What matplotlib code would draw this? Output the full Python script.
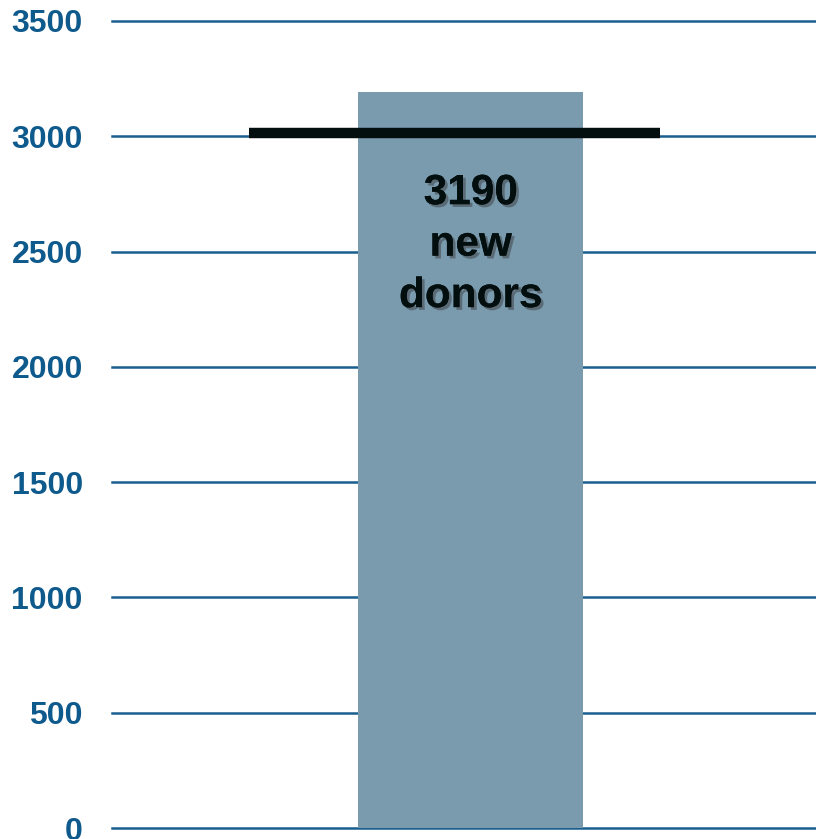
import matplotlib
matplotlib.use("Agg")
import matplotlib.pyplot as plt
import matplotlib.patheffects as pe

categories = ["New donors"]
values = [3190]
target = [3015]
yticks = [0, 500, 1000, 1500, 2000, 2500, 3000, 3500]
label_text = "3190\nnew\ndonors"

W, H = 816, 839
fig = plt.figure(figsize=(W/100, H/100), dpi=100)
ax = fig.add_axes([112/W, (H-828)/H, (W-112)/W, (828-21)/H])

ax.set_axisbelow(True)
ax.bar([0], values, width=0.5, color="#7A9AAE", zorder=2)
ax.hlines(target, -0.492, 0.421, colors="#030E0E", linewidth=7.5, zorder=3)

ax.set_xlim(-0.797, 0.767)
ax.set_ylim(0, 3500)
ax.set_yticks(yticks)
ax.set_yticklabels([str(t) for t in yticks], fontfamily="Liberation Sans",
                   fontweight="bold", fontsize=23, color="#0F5A8C")
ax.tick_params(axis="y", length=0, pad=21)
ax.set_xticks([])
ax.yaxis.grid(True, color="#1A5E8E", linewidth=1.8, zorder=0)
for gl in ax.get_ygridlines():
    gl.set_clip_on(False)
for s in ax.spines.values():
    s.set_visible(False)

ax.text(0, 2530, label_text, ha="center", va="center", fontfamily="Liberation Sans",
        fontweight="bold", fontsize=30.5, color="#030E0E", linespacing=1.37, zorder=4,
        path_effects=[pe.withSimplePatchShadow(offset=(2, -2), shadow_rgbFace="#333333", alpha=0.45),
                      pe.Normal()])

fig.savefig("out.png", dpi=100)
